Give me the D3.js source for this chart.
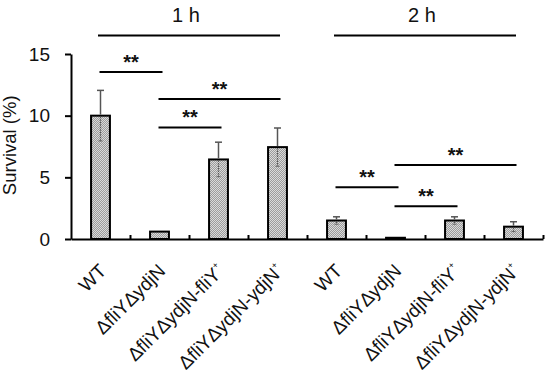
<!DOCTYPE html>
<html>
<head>
<meta charset="utf-8">
<script src="https://cdn.jsdelivr.net/npm/d3@7"></script>
<style>
body { margin: 0; background: #fff; }
text { font-family: Arial, "Liberation Sans", sans-serif; fill: #111; }
</style>
</head>
<body>
<div id="chart"></div>
<script>
// data
const groups = ["1 h", "2 h"];
const strains = ["WT", "ΔfliYΔydjN", "ΔfliYΔydjN-fliY+", "ΔfliYΔydjN-ydjN+"];
const survival1h = [10.0, 0.6, 6.45, 7.45];
const survival2h = [1.5, 0.1, 1.5, 1.0];
const sd1h = [2.05, 0, 1.4, 1.55];
const sd2h = [0.3, 0, 0.3, 0.4];
const yTicks = [0, 5, 10, 15];
// significance brackets (strain indexes within a group, height in %)
const sigGroup = ["1 h", "1 h", "1 h", "2 h", "2 h", "2 h"];
const sigFrom = [0, 1, 1, 0, 1, 1];
const sigTo = [1, 3, 2, 1, 3, 2];
const sigLevel = [13.55, 11.35, 9.05, 4.2, 6.0, 2.65];
const sigLabel = "**";
const groupLineLevel = 16.5;

const margin = { top: 54, right: 3, bottom: 137, left: 71 };
const width = 546 - margin.left - margin.right;
const height = 376 - margin.top - margin.bottom;

const rows = [];
groups.forEach((g, gi) => {
    strains.forEach((s, si) => {
        rows.push({
            group: g, strain: s, key: g + "|" + s, si: si,
            value: gi === 0 ? survival1h[si] : survival2h[si],
            sd: gi === 0 ? sd1h[si] : sd2h[si]
        });
    });
});

const svgRoot = d3.select("#chart")
    .append("svg")
    .attr("width", width + margin.left + margin.right)
    .attr("height", height + margin.top + margin.bottom);

// dotted grey fill used in the bars
const pat = svgRoot.append("defs").append("pattern")
    .attr("id", "dots")
    .attr("width", 2).attr("height", 2)
    .attr("patternUnits", "userSpaceOnUse");
pat.append("rect").attr("width", 2).attr("height", 2).attr("fill", "#dadada");
pat.append("rect").attr("width", 1).attr("height", 1).attr("fill", "#9c9c9c");
pat.append("rect").attr("x", 1).attr("y", 1).attr("width", 1).attr("height", 1).attr("fill", "#9c9c9c");

const svg = svgRoot.append("g")
    .attr("transform", "translate(" + margin.left + "," + margin.top + ")");

const x = d3.scaleBand()
    .domain(rows.map(d => d.key))
    .range([0, width])
    .padding(0);
const step = x.step();
const barW = step * 0.32;
const cx = key => x(key) + step / 2;

const y = d3.scaleLinear()
    .domain([0, 15])
    .range([height, 0]);

// bars
svg.selectAll(".bar")
    .data(rows)
    .enter().append("rect")
    .attr("class", "bar")
    .attr("x", d => cx(d.key) - barW / 2)
    .attr("y", d => y(d.value))
    .attr("width", barW)
    .attr("height", d => height - y(d.value))
    .attr("fill", "url(#dots)")
    .attr("stroke", "#000")
    .attr("stroke-width", 2);

// error bars: solid upwards, dotted inside the bar
const err = svg.selectAll(".err")
    .data(rows.filter(d => d.sd > 0))
    .enter().append("g")
    .attr("class", "err");
err.append("line")
    .attr("x1", d => cx(d.key)).attr("x2", d => cx(d.key))
    .attr("y1", d => y(d.value) - 1).attr("y2", d => y(d.value + d.sd))
    .attr("stroke", "#555").attr("stroke-width", 1.5);
err.append("line")
    .attr("x1", d => cx(d.key) - 3.5).attr("x2", d => cx(d.key) + 3.5)
    .attr("y1", d => y(d.value + d.sd)).attr("y2", d => y(d.value + d.sd))
    .attr("stroke", "#555").attr("stroke-width", 1.5);
err.append("line")
    .attr("x1", d => cx(d.key)).attr("x2", d => cx(d.key))
    .attr("y1", d => y(d.value) + 1).attr("y2", d => y(d.value - d.sd))
    .attr("stroke", "#555").attr("stroke-width", 1.2)
    .attr("stroke-dasharray", "1.5,1");
err.append("line")
    .attr("x1", d => cx(d.key) - 2).attr("x2", d => cx(d.key) + 2)
    .attr("y1", d => y(d.value - d.sd)).attr("y2", d => y(d.value - d.sd))
    .attr("stroke", "#666").attr("stroke-width", 1);

// axes
const xIdx = d3.scaleLinear().domain([0, rows.length]).range([0, width]);
const xAxis = svg.append("g")
    .attr("transform", "translate(0," + height + ")")
    .call(d3.axisBottom(xIdx).tickValues(d3.range(1, rows.length + 1)).tickSize(-4).tickSizeOuter(0).tickFormat(""));
xAxis.select(".domain").attr("stroke-width", 2);
xAxis.selectAll(".tick line").attr("stroke-width", 2);

const yAxis = svg.append("g")
    .call(d3.axisLeft(y).tickValues(yTicks).tickSize(6).tickSizeOuter(0).tickPadding(15));
yAxis.select(".domain").attr("stroke-width", 2);
yAxis.selectAll(".tick line").attr("stroke-width", 2);
yAxis.selectAll("text")
    .style("font-size", "19px")
    .style("font-family", "Arial, 'Liberation Sans', sans-serif")
    .attr("fill", "#111");

svgRoot.append("text")
    .attr("transform", "translate(16," + (margin.top + y(7.6)) + ") rotate(-90)")
    .attr("text-anchor", "middle")
    .style("font-size", "18.5px")
    .text("Survival (%)");

// rotated category labels, "+" raised
const labels = svg.selectAll(".xlabel")
    .data(rows)
    .enter().append("text")
    .attr("class", "xlabel")
    .attr("text-anchor", "end")
    .style("font-size", "19px")
    .attr("transform", d => "translate(" + (cx(d.key) + 7) + "," + (height + 33) + ") rotate(-45)");
labels.each(function(d) {
    const t = d3.select(this);
    const parts = d.strain.split(/(\+)/).filter(p => p !== "");
    parts.forEach(p => {
        if (p === "+") {
            t.append("tspan").attr("dy", -9).style("font-size", "9px").text("+");
        } else {
            t.append("tspan").text(p);
        }
    });
});

// group titles with their lines
const groupKeys = g => rows.filter(d => d.group === g).map(d => d.key);
groups.forEach(g => {
    const ks = groupKeys(g);
    const x0 = cx(ks[0]), x1 = cx(ks[ks.length - 1]);
    const mid = (x0 + x1) / 2;
    svg.append("line")
        .attr("x1", mid - 91).attr("x2", mid + 91)
        .attr("y1", y(groupLineLevel)).attr("y2", y(groupLineLevel))
        .attr("stroke", "#000").attr("stroke-width", 2);
    svg.append("text")
        .attr("x", mid - 3)
        .attr("y", y(groupLineLevel) - 14)
        .attr("text-anchor", "middle")
        .style("font-size", "20px")
        .text(g);
});

// significance brackets
sigGroup.forEach((g, i) => {
    const ks = groupKeys(g);
    const xa = cx(ks[sigFrom[i]]) - 1;
    const xb = cx(ks[sigTo[i]]) + 3;
    svg.append("line")
        .attr("x1", xa).attr("x2", xb)
        .attr("y1", y(sigLevel[i])).attr("y2", y(sigLevel[i]))
        .attr("stroke", "#000").attr("stroke-width", 2);
    svg.append("text")
        .attr("x", (xa + xb) / 2)
        .attr("y", y(sigLevel[i]) - 3)
        .attr("text-anchor", "middle")
        .style("font-size", "20px")
        .style("font-weight", "bold")
        .text(sigLabel);
});
</script>
</body>
</html>
